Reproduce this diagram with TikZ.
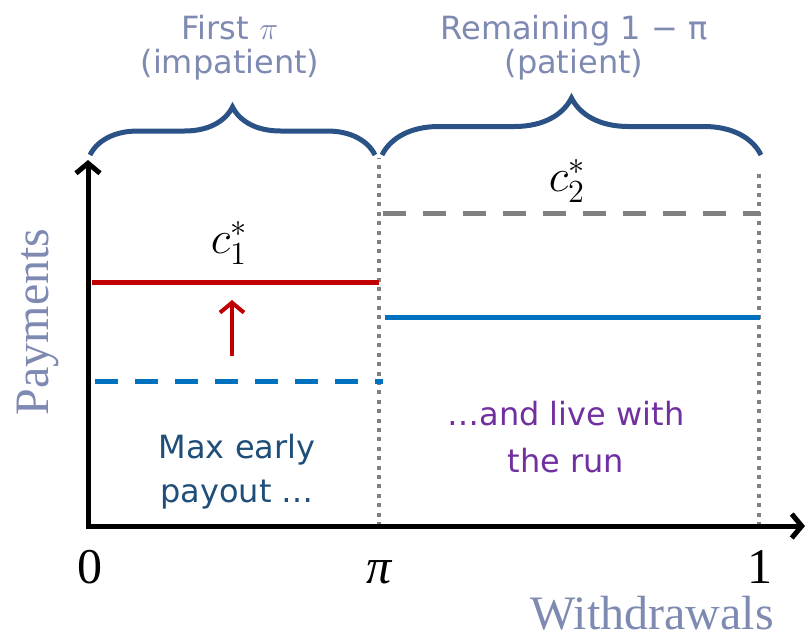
\documentclass[tikz,border=0pt]{standalone}
\usepackage{fix-cm}
\usepackage{fontspec}
\setmainfont{Liberation Serif}
\setsansfont{DejaVu Sans}
\usepackage{tikz}
\usetikzlibrary{arrows.meta,positioning,calc,decorations.pathreplacing}
\definecolor{navy}{HTML}{1F4E79}
\definecolor{lavender}{HTML}{7F8AB2}
\definecolor{bracecol}{HTML}{2B5286}
\definecolor{runred}{HTML}{C00000}
\definecolor{payblue}{HTML}{0070C0}
\definecolor{grayline}{HTML}{808080}
\definecolor{livepurple}{HTML}{7030A0}

\begin{document}
\begin{tikzpicture}[
  x=0.5pt,y=-0.5pt,
  axis/.style={line width=2.5pt,line join=miter,
               {Straight Barb[length=5pt,width=12pt]}-{Straight Barb[length=5pt,width=12pt]}},
  guide/.style={grayline,line width=2pt,dash pattern=on 2pt off 2.7pt},
  level/.style={line width=2.5pt},
  dashlevel/.style={line width=2.5pt,dash pattern=on 11.5pt off 8.5pt},
  raise/.style={runred,line width=2pt,-{Straight Barb[length=5pt,width=12pt]}},
  grp/.style={decorate,draw=bracecol,line width=2.5pt},
  grplbl/.style={text=lavender,align=center,inner sep=0pt,
                 font=\sffamily\fontsize{16}{17}\selectfont},
  note/.style={align=center,inner sep=0pt,font=\sffamily\fontsize{16}{22}\selectfont},
  tick/.style={anchor=base,inner sep=0pt,font=\fontsize{25}{30}\selectfont},
  axlbl/.style={text=lavender,inner sep=0pt,font=\fontsize{24}{28}\selectfont},
  clbl/.style={inner sep=0pt,font=\fontsize{23}{27}\selectfont}
]
  \useasboundingbox (0,0) rectangle (811,638);
  % axes and guides
  \coordinate (o) at (88,526);
  \coordinate (ytop) at (88,160);
  \coordinate (xend) at (805,526);
  \coordinate (pibot) at (379,526);
  \coordinate (pitop) at (379,158);
  \coordinate (onebot) at (759,526);
  \coordinate (onetop) at (759,173);
  \draw[guide] (pibot) -- (pitop);
  \draw[guide] (onebot) -- (onetop);
  \draw[axis] (ytop) -- (o) -- (xend);
  % payment levels
  \coordinate (c1L) at (92,282);
  \coordinate (c1R) at (379,282);
  \coordinate (maxL) at (95,381);
  \coordinate (maxR) at (383,381);
  \coordinate (c2L) at (383,213);
  \coordinate (c2R) at (760,213);
  \coordinate (runL) at (385,317);
  \coordinate (runR) at (760,317);
  \draw[level,runred] (c1L) -- (c1R);
  \draw[dashlevel,payblue] (maxL) -- (maxR);
  \draw[dashlevel,grayline] (c2L) -- (c2R);
  \draw[level,payblue] (runL) -- (runR);
  \coordinate (raiseFrom) at (232,356);
  \coordinate (raiseTo) at (232,300);
  \draw[raise] (raiseFrom) -- (raiseTo);
  % groups
  \coordinate (impL) at (90,155);
  \coordinate (impR) at (375,155);
  \coordinate (patL) at (382,155);
  \coordinate (patR) at (761,155);
  \draw[grp,decoration={brace,amplitude=24pt}] (impL) -- (impR);
  \draw[grp,decoration={brace,amplitude=28.5pt}] (patL) -- (patR);
  \node[grplbl] (imp) at (230,48) {First $\pi$\\(impatient)};
  \node[grplbl] (pat) at (574,48) {Remaining 1 − π\\(patient)};
  % labels
  \node[clbl] (c1) at (229,243) {$c_1^*$};
  \node[clbl] (c2) at (567,181) {$c_2^*$};
  \node[note,text=navy] (early) at (237,472) {Max early\\payout …};
  \node[note,text=livepurple,font=\sffamily\fontsize{16}{23.5}\selectfont] (live) at (566,437)
    {…and live with\\the run};
  \node[tick] (t0) at (90,583) {0};
  \node[tick] (tpi) at (379,583) {\itshape π};
  \node[tick] (t1) at (760,583) {1};
  \node[axlbl,rotate=90] (ylbl) at (38,322) {Payments};
  \node[axlbl,anchor=base] (xlbl) at (652,629) {Withdrawals};
\end{tikzpicture}
\end{document}
